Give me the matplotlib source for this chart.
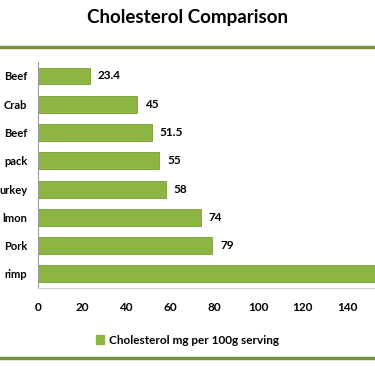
import matplotlib
matplotlib.use('Agg')
import matplotlib.pyplot as plt
from matplotlib.lines import Line2D
from matplotlib.patches import Patch

foods = ["Beef", "Crab", "Beef", "pack", "urkey", "lmon", "Pork", "rimp"]
cholesterol = [23.4, 45, 51.5, 55, 58, 74, 79, 195]
value_labels = ["23.4", "45", "51.5", "55", "58", "74", "79", ""]
ticks = [0, 20, 40, 60, 80, 100, 120, 140]

plt.rcParams['font.family'] = ['Lato', 'DejaVu Sans']
plt.rcParams['font.weight'] = 'bold'

fig = plt.figure(figsize=(3.75, 3.66), dpi=100)
ax = fig.add_axes([0.101, 0.213, 0.899, 0.618])

pos = list(range(len(foods)))
ax.barh(pos, cholesterol, height=0.6, color='#8db543', edgecolor='#7a9c38', linewidth=0.6)
for p, v, lab in zip(pos, cholesterol, value_labels):
    if lab:
        ax.text(v + 3.5, p, lab, va='center', ha='left', fontsize=8.5, fontweight='bold')

ax.set_yticks(pos)
ax.set_yticklabels(foods, fontsize=8, fontweight='bold')
ax.set_ylim(len(foods) - 0.5, -0.5)
ax.set_xlim(0, 152.7)
ax.set_xticks(ticks)
ax.set_xticklabels([str(t) for t in ticks], fontsize=8.5, fontweight='bold')
ax.tick_params(axis='both', length=0)
ax.tick_params(axis='x', pad=10)
ax.tick_params(axis='y', pad=7.5)
for s in ['top', 'right']:
    ax.spines[s].set_visible(False)
ax.spines['left'].set_color('#999999')
ax.spines['bottom'].set_color('#d0d0d0')
ax.spines['left'].set_linewidth(0.8)

fig.text(0.5, 0.953, "Cholesterol Comparison", ha='center', va='center', fontsize=13.5, fontweight='bold')
fig.add_artist(Line2D([0, 1], [1 - 47 / 366, 1 - 47 / 366], color='#7a9140', linewidth=2.5))
fig.add_artist(Line2D([0, 1], [1 - 358 / 366, 1 - 358 / 366], color='#7a9140', linewidth=2.5))

fig.legend(handles=[Patch(color='#8db543', label='Cholesterol mg per 100g serving')],
           loc='center', bbox_to_anchor=(0.5, 1 - 340 / 366), frameon=False,
           fontsize=8.5, handlelength=0.7, handleheight=0.7, handletextpad=0.4)

fig.savefig('out.png', dpi=100)
